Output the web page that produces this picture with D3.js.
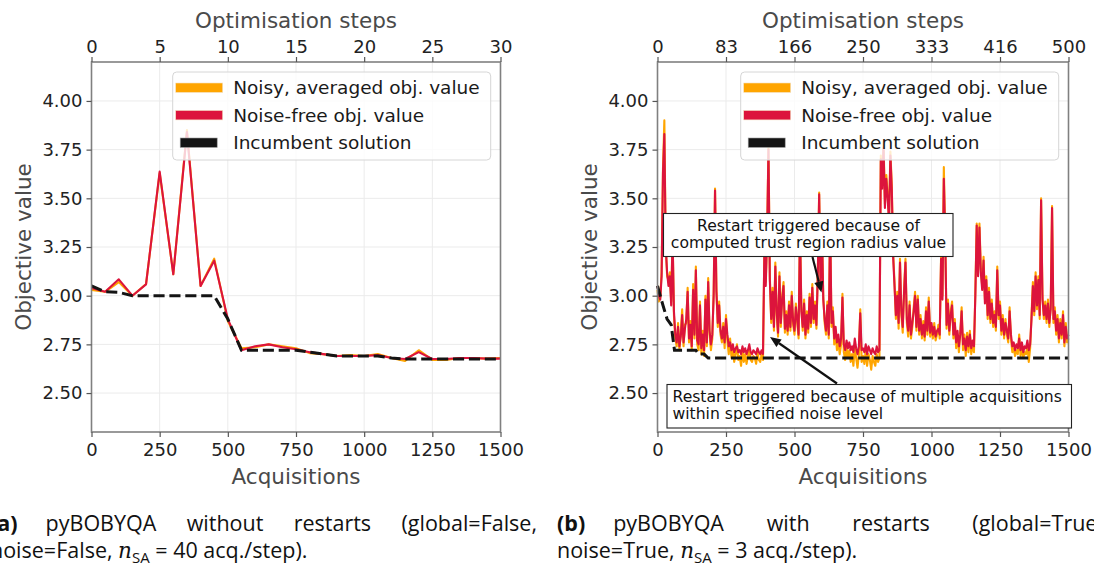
<!DOCTYPE html>
<html><head><meta charset="utf-8">
<script src="https://cdn.jsdelivr.net/npm/d3@7"></script>
<style>
html,body{margin:0;padding:0;background:#fff;}
svg{display:block;}
</style></head><body>
<svg id="chart" width="1094" height="570"></svg>
<script>
// ---- axis ticks & labels ----
const acqTicks = [0, 250, 500, 750, 1000, 1250, 1500];
const stepLabelsA = ["0", "5", "10", "15", "20", "25", "30"];
const stepLabelsB = ["0", "83", "166", "250", "333", "416", "500"];
const yTicks = [2.50, 2.75, 3.00, 3.25, 3.50, 3.75, 4.00];
const legendLabels = ["Noisy, averaged obj. value", "Noise-free obj. value", "Incumbent solution"];

// ---- (a) pyBOBYQA without restarts ----
const acqA = [0, 50, 100, 150, 200, 250, 300, 350, 400, 450, 500, 550, 600, 650, 700, 750,
  800, 850, 900, 950, 1000, 1050, 1100, 1150, 1200, 1250, 1300, 1350, 1400, 1450, 1500];
const noisyA = [3.03, 3.02, 3.07, 3.00, 3.06, 3.63, 3.11, 3.85, 3.05, 3.19, 2.87, 2.73, 2.735, 2.75, 2.74, 2.73,
  2.705, 2.70, 2.69, 2.695, 2.69, 2.70, 2.68, 2.665, 2.72, 2.67, 2.67, 2.68, 2.68, 2.677, 2.68];
const cleanA = [3.04, 3.02, 3.084, 3.00, 3.058, 3.637, 3.11, 3.84, 3.05, 3.18, 2.88, 2.72, 2.74, 2.75, 2.735, 2.725,
  2.71, 2.70, 2.69, 2.69, 2.69, 2.695, 2.68, 2.675, 2.71, 2.675, 2.675, 2.68, 2.68, 2.677, 2.677];
const incAcqA = [0, 50, 100, 150, 450, 500, 550, 750, 800, 850, 900, 1050, 1100, 1150, 1500];
const incValA = [3.05, 3.02, 3.017, 3.00, 3.00, 2.88, 2.72, 2.72, 2.71, 2.70, 2.69, 2.69, 2.68, 2.675, 2.675];

// ---- (b) pyBOBYQA with restarts: one stored sample every 5 acquisitions ----
const sampleEveryB = 5;
const noisyB = [
  3.03, 2.97, 2.99, 3.12, 3.65, 3.90, 3.27, 3.10, 3.08, 3.12,
  2.97, 3.31, 2.90, 2.78, 2.74, 2.86, 2.72, 2.81, 2.93, 2.74,
  2.85, 2.86, 3.04, 2.76, 2.87, 2.72, 3.06, 2.78, 3.15, 2.75,
  2.72, 2.97, 2.70, 2.82, 2.69, 3.00, 2.74, 3.09, 2.80, 2.72,
  2.78, 3.02, 3.55, 3.04, 2.84, 2.97, 2.80, 2.76, 2.86, 2.73,
  2.90, 2.77, 2.70, 2.78, 2.68, 2.73, 2.66, 2.70, 2.75, 2.67,
  2.69, 2.64, 2.72, 2.66, 2.70, 2.65, 2.69, 2.73, 2.67, 2.66,
  2.69, 2.68, 2.65, 2.71, 2.67, 2.66, 2.70, 2.67, 3.23, 3.07,
  3.31, 3.77, 3.10, 2.86, 3.04, 2.82, 3.17, 2.90, 2.79, 3.12,
  2.84, 3.00, 3.07, 2.81, 2.92, 2.80, 2.97, 2.82, 3.02, 2.85,
  2.80, 2.96, 2.86, 2.78, 3.36, 2.94, 2.82, 2.98, 2.78, 2.92,
  2.81, 3.01, 2.84, 3.06, 2.86, 2.97, 2.83, 3.12, 3.53, 3.07,
  3.36, 3.00, 2.86, 2.80, 2.97, 2.78, 3.39, 2.84, 2.94, 2.75,
  2.81, 2.72, 2.77, 2.70, 2.75, 3.01, 2.71, 2.67, 2.73, 2.68,
  2.72, 2.66, 2.70, 2.64, 2.74, 2.68, 2.63, 2.70, 2.93, 2.66,
  2.69, 2.65, 2.72, 2.64, 2.70, 2.67, 2.62, 2.69, 2.66, 2.64,
  2.70, 2.66, 2.68, 3.72, 3.57, 3.79, 3.47, 3.62, 3.52, 3.40,
  3.74, 3.57, 3.22, 3.07, 2.88, 3.02, 2.83, 3.19, 2.90, 2.81,
  3.04, 3.19, 2.86, 2.79, 2.97, 2.78, 2.84, 2.94, 3.02, 2.82,
  3.00, 2.80, 2.90, 2.78, 2.87, 2.77, 2.94, 2.80, 2.99, 2.79,
  2.84, 2.78, 2.86, 2.77, 2.80, 2.85, 2.78, 3.21, 3.00, 3.66,
  3.32, 2.83, 2.98, 2.80, 2.92, 2.97, 2.78, 2.88, 2.73, 2.80,
  2.71, 2.82, 2.94, 2.72, 2.80, 2.69, 2.81, 2.71, 2.82, 2.70,
  2.75, 2.71, 3.02, 3.37, 3.12, 3.37, 3.14, 3.05, 3.20, 2.98,
  3.10, 2.88, 3.04, 2.86, 2.98, 2.84, 2.92, 2.82, 3.15, 2.88,
  2.97, 2.80, 2.90, 2.78, 2.88, 2.80, 2.76, 2.94, 2.78, 2.71,
  2.73, 2.69, 2.72, 2.70, 2.80, 2.69, 2.74, 2.68, 2.71, 2.70,
  2.75, 2.66, 2.73, 2.90, 3.07, 2.90, 3.12, 2.93, 3.10, 2.88,
  3.50, 3.00, 2.88, 2.97, 2.86, 2.98, 2.84, 2.95, 3.46, 2.86,
  2.94, 2.80, 2.90, 2.76, 2.88, 2.78, 2.92, 2.74, 2.86, 2.76,
  2.78];
const cleanB = [
  3.05, 3.00, 2.98, 3.10, 3.63, 3.83, 3.25, 3.12, 3.05, 3.10,
  2.95, 3.30, 2.92, 2.80, 2.76, 2.84, 2.74, 2.79, 2.90, 2.76,
  2.83, 2.88, 3.02, 2.78, 2.85, 2.74, 3.03, 2.80, 3.13, 2.77,
  2.75, 2.95, 2.73, 2.80, 2.72, 2.98, 2.76, 3.07, 2.82, 2.75,
  2.80, 3.00, 3.54, 3.02, 2.86, 2.95, 2.82, 2.78, 2.84, 2.76,
  2.88, 2.80, 2.74, 2.76, 2.72, 2.75, 2.71, 2.73, 2.74, 2.71,
  2.72, 2.70, 2.74, 2.71, 2.73, 2.70, 2.72, 2.75, 2.71, 2.70,
  2.72, 2.71, 2.70, 2.73, 2.71, 2.70, 2.72, 2.70, 3.22, 3.05,
  3.30, 3.75, 3.08, 2.88, 3.02, 2.84, 3.15, 2.92, 2.81, 3.10,
  2.86, 2.98, 3.05, 2.83, 2.90, 2.82, 2.95, 2.84, 3.00, 2.87,
  2.82, 2.94, 2.88, 2.80, 3.35, 2.92, 2.84, 2.96, 2.80, 2.90,
  2.83, 2.99, 2.86, 3.04, 2.88, 2.95, 2.85, 3.10, 3.52, 3.05,
  3.35, 2.98, 2.88, 2.82, 2.95, 2.80, 3.38, 2.86, 2.92, 2.78,
  2.84, 2.76, 2.80, 2.74, 2.78, 2.99, 2.75, 2.72, 2.77, 2.73,
  2.76, 2.72, 2.74, 2.71, 2.78, 2.73, 2.70, 2.74, 2.91, 2.72,
  2.73, 2.71, 2.75, 2.70, 2.74, 2.72, 2.70, 2.73, 2.71, 2.70,
  2.74, 2.71, 2.72, 3.70, 3.55, 3.76, 3.45, 3.60, 3.50, 3.38,
  3.72, 3.55, 3.20, 3.05, 2.90, 3.00, 2.86, 3.17, 2.92, 2.84,
  3.02, 3.17, 2.88, 2.82, 2.95, 2.80, 2.86, 2.92, 3.00, 2.84,
  2.98, 2.82, 2.88, 2.80, 2.85, 2.79, 2.92, 2.82, 2.97, 2.81,
  2.86, 2.80, 2.84, 2.79, 2.82, 2.83, 2.80, 3.19, 2.98, 3.60,
  3.30, 2.85, 2.96, 2.82, 2.90, 2.95, 2.80, 2.86, 2.76, 2.82,
  2.74, 2.80, 2.92, 2.75, 2.78, 2.72, 2.79, 2.74, 2.80, 2.73,
  2.77, 2.74, 3.00, 3.36, 3.10, 3.35, 3.12, 3.03, 3.18, 2.96,
  3.08, 2.90, 3.02, 2.88, 2.96, 2.86, 2.90, 2.84, 3.13, 2.90,
  2.95, 2.82, 2.88, 2.80, 2.86, 2.82, 2.78, 2.92, 2.80, 2.74,
  2.76, 2.72, 2.75, 2.73, 2.78, 2.72, 2.76, 2.71, 2.74, 2.73,
  2.77, 2.72, 2.75, 2.88, 3.05, 2.92, 3.10, 2.95, 3.08, 2.90,
  3.49, 2.98, 2.90, 2.95, 2.88, 2.96, 2.86, 2.93, 3.45, 2.88,
  2.92, 2.82, 2.88, 2.78, 2.86, 2.80, 2.90, 2.76, 2.84, 2.78,
  2.80];
const incAcqB = [0, 10, 20, 35, 50, 62, 140, 150, 170, 185, 1500];
const incValB = [3.05, 3.00, 2.95, 2.88, 2.85, 2.72, 2.72, 2.70, 2.70, 2.68, 2.68];

// ---- annotations in (b) ----
const noteTrust = ["Restart triggered because of", "computed trust region radius value"];
const noteNoise = ["Restart triggered because of multiple acquisitions", "within specified noise level"];

// ---- sub-figure captions ----
const captionA = {
  label: "(a)", words: ["pyBOBYQA", "without", "restarts", "(global=False,"],
  pre: "noise=False, ", nsa: "40"
};
const captionB = {
  label: "(b)", words: ["pyBOBYQA", "with", "restarts", "(global=True,"],
  pre: "noise=True, ", nsa: "3"
};

const COLORS = {noisy: "#FFA500", clean: "#DC143C", inc: "#141414"};
const TOP = 62, BOT = 432;
const svg = d3.select("#chart");
const yScale = d3.scaleLinear().domain([2.30, 4.20]).range([BOT, TOP]);
const FONT = "DejaVu Sans, sans-serif";

function styleAxis(sel, size) {
  sel.attr("font-family", FONT).attr("font-size", size).attr("color", "#555");
  sel.select(".domain").remove();
  sel.selectAll(".tick text").attr("fill", "#222");
  sel.selectAll(".tick line").attr("stroke-width", 1.2);
}

function drawPanel(cfg) {
  const g = svg.append("g");
  const x = d3.scaleLinear().domain([0, 1500]).range([cfg.left, cfg.right]);
  const y = yScale;

  // grid
  const grid = g.append("g").attr("stroke", "#ebebeb").attr("stroke-width", 1);
  grid.selectAll("line.gx").data(acqTicks).join("line").attr("class", "gx")
    .attr("x1", d => x(d)).attr("x2", d => x(d)).attr("y1", TOP).attr("y2", BOT);
  grid.selectAll("line.gy").data(yTicks).join("line").attr("class", "gy")
    .attr("x1", cfg.left).attr("x2", cfg.right).attr("y1", d => y(d)).attr("y2", d => y(d));

  // series
  const line = d3.line().x(d => x(d.acq)).y(d => y(d.v));
  const pts = (acqs, vals) => vals.map((v, i) => ({acq: acqs[i], v}));
  g.append("path").datum(pts(cfg.acq, cfg.noisy)).attr("d", line)
    .attr("fill", "none").attr("stroke", COLORS.noisy).attr("stroke-width", 2.1).attr("stroke-linejoin", "round");
  g.append("path").datum(pts(cfg.acq, cfg.clean)).attr("d", line)
    .attr("fill", "none").attr("stroke", COLORS.clean).attr("stroke-width", 2.1).attr("stroke-linejoin", "round");
  g.append("path").datum(pts(cfg.incAcq, cfg.incVal)).attr("d", line)
    .attr("fill", "none").attr("stroke", COLORS.inc).attr("stroke-width", 3)
    .attr("stroke-dasharray", "11.1,4.8");

  // frame
  g.append("rect").attr("x", cfg.left).attr("y", TOP).attr("width", cfg.right - cfg.left).attr("height", BOT - TOP)
    .attr("fill", "none").attr("stroke", "#808080").attr("stroke-width", 1.6);

  // axes
  g.append("g").attr("transform", `translate(0,${BOT})`)
    .call(d3.axisBottom(x).tickValues(acqTicks).tickSize(5).tickPadding(6).tickFormat(d3.format("d")))
    .call(s => styleAxis(s, 18));
  g.append("g").attr("transform", `translate(0,${TOP})`)
    .call(d3.axisTop(x).tickValues(acqTicks).tickSize(5).tickPadding(4).tickFormat((d, i) => cfg.stepLabels[i]))
    .call(s => styleAxis(s, 18));
  g.append("g").attr("transform", `translate(${cfg.left},0)`)
    .call(d3.axisLeft(y).tickValues(yTicks).tickSize(5).tickPadding(4).tickFormat(d3.format(".2f")))
    .call(s => styleAxis(s, 18));

  // axis titles
  const mid = (cfg.left + cfg.right) / 2;
  g.append("text").attr("x", mid).attr("y", 484).attr("text-anchor", "middle")
    .attr("font-family", FONT).attr("font-size", 21.5).attr("fill", "#4a4a4a").text("Acquisitions");
  g.append("text").attr("x", mid).attr("y", 28).attr("text-anchor", "middle")
    .attr("font-family", FONT).attr("font-size", 21.5).attr("fill", "#4a4a4a").text("Optimisation steps");
  g.append("text").attr("transform", `translate(${cfg.left - 61},${(TOP + BOT) / 2}) rotate(-90)`)
    .attr("text-anchor", "middle").attr("font-family", FONT).attr("font-size", 21.5).attr("fill", "#4a4a4a")
    .text("Objective value");

  // legend
  const lw = 318, lh = 88;
  const lx = cfg.right - 9.8 - lw, ly = 72;
  const leg = g.append("g");
  leg.append("rect").attr("x", lx).attr("y", ly).attr("width", lw).attr("height", lh).attr("rx", 4)
    .attr("fill", "#fff").attr("fill-opacity", 0.8).attr("stroke", "#d6d6d6").attr("stroke-width", 1);
  const rows = [
    {c: COLORS.noisy, dx: 3, w: 47},
    {c: COLORS.clean, dx: 3, w: 47},
    {c: COLORS.inc, dx: 7.5, w: 37}
  ];
  rows.forEach((r, i) => {
    const cy = 87.7 + i * 27.5;
    leg.append("rect").attr("x", lx + r.dx).attr("y", cy - 4.7).attr("width", r.w).attr("height", 9.4)
      .attr("fill", r.c).attr("stroke", i === 2 ? "#9a9a9a" : "#f4e0c0").attr("stroke-width", 0.6);
    leg.append("text").attr("x", lx + 60.5).attr("y", cy + 6.6)
      .attr("font-family", FONT).attr("font-size", 18.5).attr("fill", "#1a1a1a").text(legendLabels[i]);
  });
  return {g, x, y};
}

drawPanel({left: 91.5, right: 500.5, acq: acqA, noisy: noisyA, clean: cleanA,
  incAcq: incAcqA, incVal: incValA, stepLabels: stepLabelsA});
drawPanel({left: 657.5, right: 1068.5, acq: cleanB.map((_, i) => i * sampleEveryB),
  noisy: noisyB, clean: cleanB, incAcq: incAcqB, incVal: incValB, stepLabels: stepLabelsB});

// annotation boxes with arrows
function arrow(g, x1, y1, x2, y2) {
  const dx = x2 - x1, dy = y2 - y1, L = Math.hypot(dx, dy);
  const ux = dx / L, uy = dy / L, hl = 11, hw = 4.6;
  const bx = x2 - ux * hl, by = y2 - uy * hl;
  g.append("line").attr("x1", x1).attr("y1", y1).attr("x2", bx).attr("y2", by)
    .attr("stroke", "#111").attr("stroke-width", 2.2);
  g.append("path").attr("d", `M${x2},${y2}L${bx - uy * hw},${by + ux * hw}L${bx + uy * hw},${by - ux * hw}Z`)
    .attr("fill", "#111");
}
function noteBox(g, x, y, w, h, lines, anchor, tx, ty0, lead) {
  g.append("rect").attr("x", x).attr("y", y).attr("width", w).attr("height", h)
    .attr("fill", "#fff").attr("stroke", "#222").attr("stroke-width", 1.1);
  lines.forEach((t, i) => g.append("text").attr("x", tx).attr("y", ty0 + i * lead)
    .attr("text-anchor", anchor).attr("font-family", FONT).attr("font-size", 15.6).attr("fill", "#111").text(t));
}
const ann = svg.append("g");
arrow(ann, 812.5, 257, 821.5, 292.5);
arrow(ann, 837, 383.5, 770, 337);
noteBox(ann, 663.5, 213.5, 289.5, 43, noteTrust, "middle", 808.5, 230.5, 17.5);
noteBox(ann, 667, 384.5, 404.5, 43.5, noteNoise, "start", 672.5, 401.5, 17);

// captions: label, then the remaining words of line 1 justified; line 2 left-aligned
const CAP = "Open Sans, sans-serif";
function caption(cap, x0, x1) {
  const g = svg.append("g").attr("font-family", CAP).attr("font-size", 21.5).attr("fill", "#111");
  const lab = g.append("text").attr("x", x0).attr("y", 531).attr("font-weight", "bold").text(cap.label);
  const start = x0 + lab.node().getComputedTextLength() + 28;
  const items = cap.words.map(w => g.append("text").attr("y", 531).text(w));
  const widths = items.map(t => t.node().getComputedTextLength());
  const gap = (x1 - start - d3.sum(widths)) / (items.length - 1);
  let cx = start;
  items.forEach((t, i) => { t.attr("x", cx); cx += widths[i] + gap; });
  const l2 = g.append("text").attr("x", x0).attr("y", 558);
  l2.append("tspan").text(cap.pre);
  l2.append("tspan").attr("font-family", "DejaVu Serif, serif").attr("font-style", "italic").text("n");
  l2.append("tspan").attr("font-size", 15).attr("dy", 4.5).text("SA");
  l2.append("tspan").attr("dy", -4.5).text(` = ${cap.nsa} acq./step).`);
}
caption(captionA, -10, 537);
caption(captionB, 557, 1103);
</script>
</body></html>
